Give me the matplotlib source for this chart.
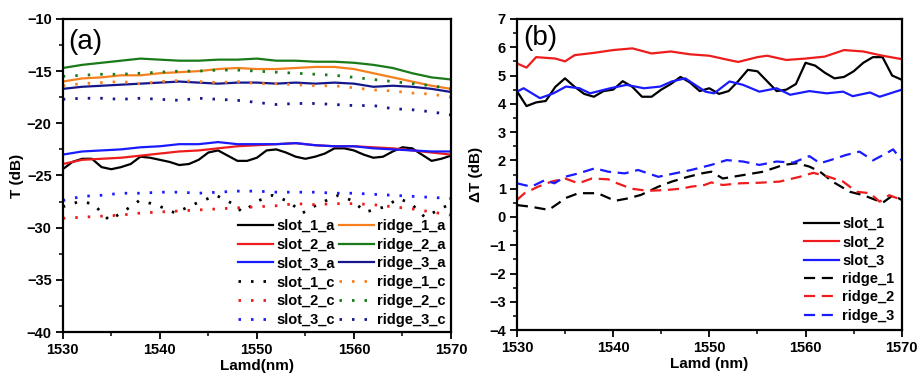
import matplotlib
matplotlib.use("Agg")
import matplotlib.pyplot as plt
from matplotlib.ticker import MultipleLocator

plt.rcParams['font.family'] = ['Liberation Sans', 'DejaVu Sans']
plt.rcParams['font.weight'] = 'bold'

# ---------------- Panel (a) data ----------------
wl1 = list(range(1530, 1571))          # 1 nm grid
wl2 = list(range(1530, 1571, 2))       # 2 nm grid

slot_1_a = [-24.4, -23.7, -23.4, -23.4, -24.2, -24.4, -24.2, -23.9, -23.2, -23.3,
            -23.5, -23.7, -24.0, -23.9, -23.5, -22.8, -22.6, -23.1, -23.6, -23.6,
            -23.3, -22.6, -22.5, -22.8, -23.2, -23.4, -23.2, -22.9, -22.4, -22.4,
            -22.6, -23.0, -23.3, -23.2, -22.7, -22.3, -22.4, -23.0, -23.6, -23.4, -23.1]
slot_2_a = [-23.9, -23.5, -23.4, -23.3, -23.1, -22.9, -22.7, -22.6, -22.4, -22.2, -22.1,
            -22.0, -21.9, -22.1, -22.2, -22.2, -22.3, -22.4, -22.6, -22.8, -23.0]
slot_3_a = [-23.0, -22.7, -22.6, -22.5, -22.3, -22.2, -22.0, -22.0, -21.8, -22.0, -22.0,
            -22.0, -21.9, -22.1, -22.2, -22.2, -22.4, -22.5, -22.6, -22.7, -22.7]
ridge_1_a = [-16.0, -15.7, -15.6, -15.4, -15.4, -15.2, -15.1, -15.0, -14.8, -14.7, -14.8,
             -14.8, -14.7, -14.6, -14.6, -14.8, -15.2, -15.6, -16.0, -16.4, -16.7]
ridge_2_a = [-14.7, -14.4, -14.2, -14.0, -13.8, -13.9, -14.0, -14.0, -13.9, -13.9, -13.8,
             -14.0, -14.0, -14.1, -14.1, -14.2, -14.4, -14.7, -15.2, -15.6, -15.8]
ridge_3_a = [-16.7, -16.5, -16.4, -16.3, -16.2, -16.1, -16.0, -16.1, -16.2, -16.1, -16.1,
             -16.2, -16.1, -16.2, -16.1, -16.2, -16.5, -16.4, -16.5, -16.7, -17.0]

wl_s1c = [1530, 1531.7, 1533.1, 1534.8, 1536.5, 1537.9, 1539.6, 1541.6, 1543.4, 1545.8,
          1547.5, 1548.5, 1550.2, 1551.6, 1553.3, 1554.7, 1556.4, 1558.4, 1559.8, 1561.2,
          1563.2, 1564.6, 1565.9, 1567.3, 1568.7, 1570.0]
slot_1_c = [-28.0, -27.5, -27.7, -29.3, -28.3, -27.4, -27.8, -28.6, -27.8, -26.9,
            -27.7, -28.5, -27.4, -26.9, -27.5, -28.6, -27.7, -26.9, -27.4, -28.5,
            -28.0, -27.2, -27.7, -29.0, -28.3, -27.7]
slot_2_c = [-29.1, -29.0, -28.9, -28.8, -28.6, -28.5, -28.4, -28.3, -28.2, -28.1, -28.0,
            -27.9, -27.7, -27.8, -27.7, -27.7, -27.8, -28.0, -28.2, -28.5, -28.8]
slot_3_c = [-27.4, -27.0, -26.9, -26.7, -26.7, -26.6, -26.6, -26.7, -26.6, -26.5, -26.5,
            -26.6, -26.6, -26.6, -26.7, -26.7, -26.8, -26.9, -27.0, -27.1, -27.2]
ridge_1_c = [-16.4, -16.2, -16.1, -16.0, -16.2, -16.0, -15.9, -16.0, -16.1, -16.0, -16.2,
             -16.2, -16.3, -16.4, -16.4, -16.6, -16.8, -16.9, -17.1, -17.2, -17.5]
ridge_2_c = [-15.5, -15.4, -15.3, -15.3, -15.2, -15.1, -15.0, -15.0, -14.9, -14.9, -15.0,
             -15.1, -15.2, -15.3, -15.4, -15.6, -15.8, -16.0, -16.2, -16.4, -16.7]
ridge_3_c = [-17.7, -17.6, -17.6, -17.7, -17.6, -17.7, -17.8, -17.6, -17.7, -17.8, -18.0,
             -18.2, -18.1, -18.1, -18.2, -18.3, -18.3, -18.6, -18.7, -18.9, -19.2]

# ---------------- Panel (b) data ----------------
dT_slot_1 = [4.45, 3.92, 4.05, 4.1, 4.6, 4.9, 4.6, 4.35, 4.25, 4.45,
             4.5, 4.8, 4.6, 4.25, 4.25, 4.5, 4.7, 4.95, 4.75, 4.45,
             4.55, 4.35, 4.45, 4.8, 5.2, 5.15, 4.8, 4.45, 4.5, 4.7,
             5.45, 5.35, 5.1, 4.9, 4.95, 5.15, 5.45, 5.65, 5.65, 5.0, 4.85]
wl_s2 = [1530, 1531, 1532, 1534, 1535, 1536, 1538, 1540, 1542, 1544, 1546, 1548, 1550,
         1552, 1553, 1555, 1556, 1558, 1560, 1562, 1564, 1566, 1568, 1570]
dT_slot_2 = [5.43, 5.28, 5.65, 5.6, 5.5, 5.72, 5.8, 5.9, 5.96, 5.78, 5.85, 5.75, 5.7,
             5.55, 5.48, 5.65, 5.7, 5.55, 5.6, 5.67, 5.9, 5.85, 5.7, 5.58]
wl_s3 = [1530, 1530.7, 1532.4, 1533.8, 1535.1, 1536.5, 1537.6, 1539.7, 1541.4, 1543.2,
         1544.9, 1546.1, 1547.5, 1549.6, 1550.5, 1552.1, 1553.5, 1555.2, 1557.0, 1558.4,
         1560.4, 1562.2, 1563.9, 1564.9, 1566.7, 1567.7, 1570.0]
dT_slot_3 = [4.43, 4.55, 4.2, 4.37, 4.61, 4.55, 4.37, 4.55, 4.67, 4.55,
             4.61, 4.79, 4.9, 4.43, 4.37, 4.79, 4.67, 4.43, 4.55, 4.32,
             4.45, 4.37, 4.43, 4.27, 4.4, 4.25, 4.5]
wl_r1 = [1530, 1531.5, 1533.3, 1534.3, 1535.0, 1536.4, 1538.4, 1540.2, 1541.6, 1542.9,
         1544.7, 1546.1, 1547.8, 1549.2, 1550.2, 1551.4, 1553.5, 1555.6, 1557.7, 1559.1,
         1560.4, 1561.5, 1562.8, 1564.6, 1566.0, 1567.3, 1568.0, 1569.1, 1570.0]
dT_ridge_1 = [0.42, 0.36, 0.25, 0.48, 0.66, 0.84, 0.84, 0.57, 0.66, 0.78,
              1.07, 1.25, 1.42, 1.54, 1.6, 1.36, 1.48, 1.6, 1.84, 1.9,
              1.78, 1.6, 1.25, 0.89, 0.77, 0.6, 0.5, 0.77, 0.6]
wl_r2 = [1530, 1530.8, 1532.2, 1533.6, 1535.0, 1536.4, 1537.8, 1539.5, 1540.2, 1541.9,
         1543.0, 1544.0, 1545.4, 1547.1, 1548.1, 1549.5, 1550.2, 1551.4, 1553.2, 1555.2,
         1557.3, 1559.4, 1560.8, 1562.2, 1563.9, 1565.3, 1566.7, 1567.7, 1568.7, 1570.0]
dT_ridge_2 = [0.6, 0.84, 1.07, 1.25, 1.36, 1.19, 1.36, 1.33, 1.22, 1.0,
              0.95, 0.93, 0.95, 1.0, 1.07, 1.13, 1.22, 1.13, 1.19, 1.21,
              1.25, 1.42, 1.56, 1.44, 1.25, 0.89, 0.84, 0.54, 0.77, 0.6]
wl_r3 = [1530, 1531.5, 1532.9, 1533.9, 1535.0, 1536.4, 1538.1, 1539.5, 1541.2, 1542.6,
         1544.7, 1546.4, 1548.1, 1550.2, 1551.8, 1553.5, 1555.2, 1557.0, 1558.7, 1560.4,
         1561.5, 1562.5, 1564.2, 1565.6, 1567.0, 1568.4, 1569.1, 1570.0]
dT_ridge_3 = [1.19, 1.07, 1.3, 1.19, 1.42, 1.54, 1.72, 1.6, 1.54, 1.66,
              1.42, 1.54, 1.66, 1.84, 2.01, 1.96, 1.84, 1.96, 1.92, 2.15,
              1.9, 2.0, 2.19, 2.31, 2.0, 2.25, 2.39, 2.0]

C_BLACK = '#000000'
C_RED = '#ee1c1c'
C_BLUE = '#1a1aff'
C_ORANGE = '#f7801e'
C_GREEN = '#1a7a1a'
C_NAVY = '#16168c'

fig = plt.figure(figsize=(9.23, 3.79), dpi=100)
axa = fig.add_axes([0.068, 0.124, 0.4206, 0.826])
axb = fig.add_axes([0.560, 0.129, 0.417, 0.821])

dot = (0, (0.9, 3.6))
lw = 1.6
axa.plot(wl1, slot_1_a, color=C_BLACK, lw=lw, label='slot_1_a')
axa.plot(wl2, slot_2_a, color=C_RED, lw=lw, label='slot_2_a')
axa.plot(wl2, slot_3_a, color=C_BLUE, lw=lw, label='slot_3_a')
axa.plot(wl_s1c, slot_1_c, color=C_BLACK, lw=2, ls=dot, label='slot_1_c')
axa.plot(wl2, slot_2_c, color=C_RED, lw=2, ls=dot, label='slot_2_c')
axa.plot(wl2, slot_3_c, color=C_BLUE, lw=2, ls=dot, label='slot_3_c')
axa.plot(wl2, ridge_1_a, color=C_ORANGE, lw=lw, label='ridge_1_a')
axa.plot(wl2, ridge_2_a, color=C_GREEN, lw=lw, label='ridge_2_a')
axa.plot(wl2, ridge_3_a, color=C_NAVY, lw=lw, label='ridge_3_a')
axa.plot(wl2, ridge_1_c, color=C_ORANGE, lw=2, ls=dot, label='ridge_1_c')
axa.plot(wl2, ridge_2_c, color=C_GREEN, lw=2, ls=dot, label='ridge_2_c')
axa.plot(wl2, ridge_3_c, color=C_NAVY, lw=2, ls=dot, label='ridge_3_c')

dash = (0, (5, 3))
axb.plot(wl1, dT_slot_1, color=C_BLACK, lw=lw, label='slot_1')
axb.plot(wl_s2, dT_slot_2, color=C_RED, lw=lw, label='slot_2')
axb.plot(wl_s3, dT_slot_3, color=C_BLUE, lw=lw, label='slot_3')
axb.plot(wl_r1, dT_ridge_1, color=C_BLACK, lw=1.6, ls=dash, label='ridge_1')
axb.plot(wl_r2, dT_ridge_2, color=C_RED, lw=1.6, ls=dash, label='ridge_2')
axb.plot(wl_r3, dT_ridge_3, color=C_BLUE, lw=1.6, ls=dash, label='ridge_3')

for ax in (axa, axb):
    ax.set_xlim(1530, 1570)
    ax.xaxis.set_major_locator(MultipleLocator(10))
    ax.xaxis.set_minor_locator(MultipleLocator(5))
    ax.tick_params(which='major', direction='out', length=5, width=1.3, labelsize=10.5,
                   top=False, right=False, pad=3)
    ax.tick_params(which='minor', direction='out', length=3, width=1.1, top=False, right=False)
    for s in ax.spines.values():
        s.set_linewidth(1.6)
    for t in ax.get_xticklabels() + ax.get_yticklabels():
        t.set_fontweight('bold')

axa.set_ylim(-40, -10)
axa.yaxis.set_major_locator(MultipleLocator(5))
axa.yaxis.set_minor_locator(MultipleLocator(2.5))
axb.set_ylim(-4, 7)
axb.yaxis.set_major_locator(MultipleLocator(1))
axb.yaxis.set_minor_locator(MultipleLocator(0.5))

axa.set_xlabel('Lamd(nm)', fontsize=11, fontweight='bold', labelpad=1)
axa.set_ylabel('T (dB)', fontsize=11, fontweight='bold', labelpad=2)
axb.set_xlabel('Lamd (nm)', fontsize=11, fontweight='bold', labelpad=1)
axb.set_ylabel('\u0394T (dB)', fontsize=11, fontweight='bold', labelpad=4)

axa.text(0.014, 0.925, '(a)', transform=axa.transAxes, fontsize=20, fontweight='normal',
         va='center', ha='left')
axb.text(0.016, 0.94, '(b)', transform=axb.transAxes, fontsize=20, fontweight='normal',
         va='center', ha='left')

axa.legend(loc='lower right', ncol=2, frameon=False, handlelength=2.4,
           handletextpad=0.25, columnspacing=0.25, labelspacing=0.33, borderaxespad=0.15,
           borderpad=0.2, prop={'weight': 'bold', 'size': 10.5})
axb.legend(loc='lower right', ncol=1, frameon=False, handlelength=2.4,
           handletextpad=0.25, labelspacing=0.3, borderaxespad=0.3,
           borderpad=0.2, prop={'weight': 'bold', 'size': 10.5})

fig.savefig('out.png', dpi=100)
